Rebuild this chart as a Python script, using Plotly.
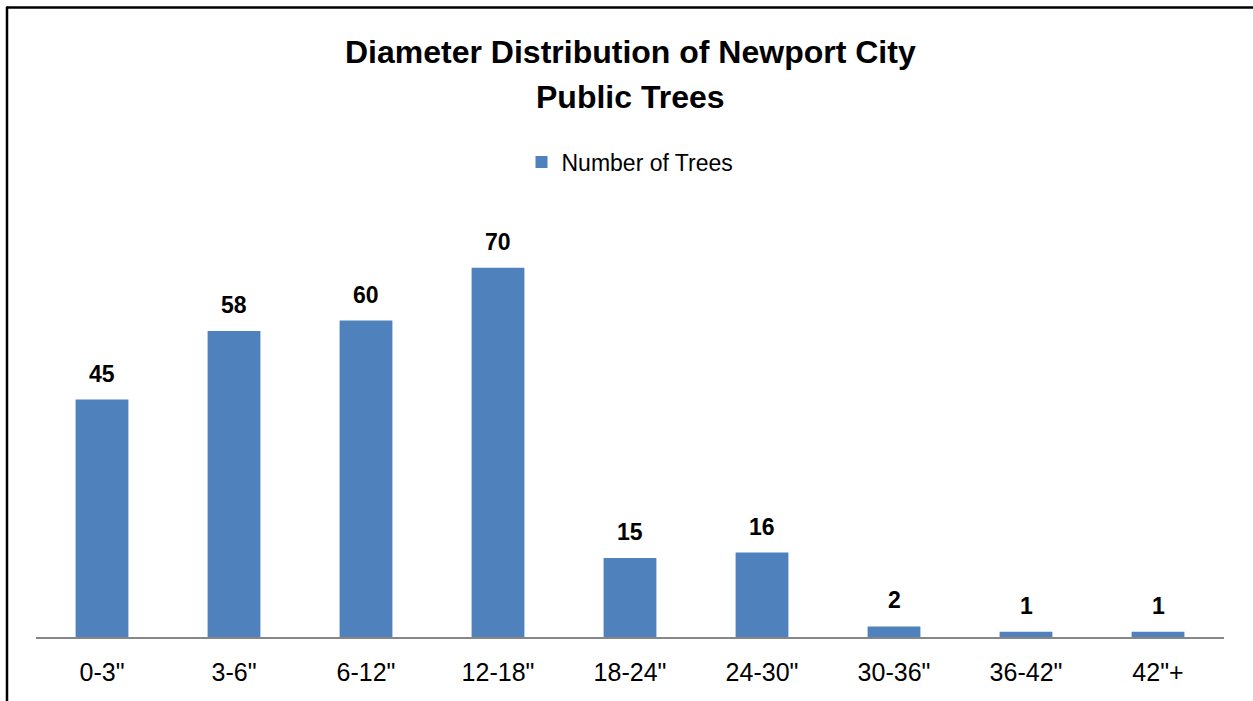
import plotly.graph_objects as go

categories = ['0-3"', '3-6"', '6-12"', '12-18"', '18-24"', '24-30"', '30-36"', '36-42"', '42"+']
number_of_trees = [45, 58, 60, 70, 15, 16, 2, 1, 1]

W, H = 1253, 701
L, R, T, B = 36, 29, 215, 64
pw, ph = W - L - R, H - T - B

FONT = "Liberation Sans, Arial, sans-serif"
BAR = "#4F81BD"


def px_x(x):
    return (x - L) / pw


def px_y(y):
    return 1 - (y - T) / ph


fig = go.Figure()
fig.add_trace(go.Bar(
    x=categories,
    y=number_of_trees,
    name="Number of Trees",
    marker=dict(color=BAR, line=dict(width=0)),
    width=0.4,
))

# Value labels above each bar
for cat, val in zip(categories, number_of_trees):
    fig.add_annotation(
        x=cat, y=val, xref="x", yref="y",
        text=f"<b>{val}</b>", showarrow=False,
        yanchor="middle", yshift=26,
        font=dict(family=FONT, size=23, color="#000000"),
    )

# Two-line title
for line, ypix in (("Diameter Distribution of Newport City", 52), ("Public Trees", 97)):
    fig.add_annotation(
        x=0.5, y=px_y(ypix), xref="paper", yref="paper",
        text=f"<b>{line}</b>", showarrow=False,
        xanchor="center", yanchor="middle",
        font=dict(family=FONT, size=32, color="#000000"),
    )

# Frame around the chart area (left and top edges)
fig.add_shape(type="line", xref="paper", yref="paper",
              x0=px_x(7), x1=px_x(1260), y0=px_y(7.5), y1=px_y(7.5),
              line=dict(color="#000000", width=2.5))
fig.add_shape(type="line", xref="paper", yref="paper",
              x0=px_x(7), x1=px_x(7), y0=px_y(6.5), y1=px_y(710),
              line=dict(color="#000000", width=2.5))

fig.update_layout(
    width=W, height=H,
    margin=dict(l=L, r=R, t=T, b=B, autoexpand=False),
    paper_bgcolor="#FFFFFF",
    plot_bgcolor="#FFFFFF",
    showlegend=True,
    legend=dict(
        orientation="h",
        x=0.5, xanchor="center", xref="paper",
        y=px_y(162), yanchor="middle", yref="paper",
        font=dict(family=FONT, size=23, color="#000000"),
        itemwidth=30,
    ),
    xaxis=dict(
        showline=True, linecolor="#868686", linewidth=1.5,
        ticks="", showgrid=False,
        tickfont=dict(family=FONT, size=25, color="#000000"),
        ticklabelstandoff=12,
    ),
    yaxis=dict(
        range=[0, 80], visible=False, showgrid=False, zeroline=False,
    ),
)

fig.write_html("out.html")
